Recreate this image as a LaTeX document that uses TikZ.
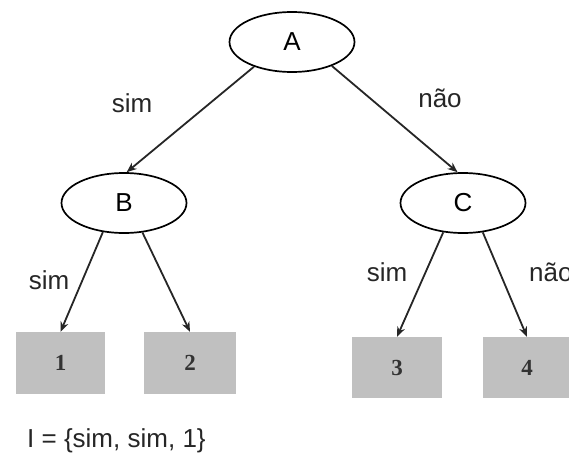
\documentclass[tikz,border=0pt]{standalone}
\usepackage{fontspec}
\setmainfont{Liberation Sans}
\newfontfamily\digitfont{Liberation Serif}
\usetikzlibrary{shapes.geometric,arrows.meta}
\definecolor{leafgray}{HTML}{C0C0C0}
\tikzset{
  dnode/.style={ellipse,draw=black,line width=1.7pt,fill=white,minimum width=125pt,minimum height=60pt,inner sep=0pt,font=\fontsize{26}{30}\selectfont},
  leaf/.style={rectangle,fill=leafgray,draw=none,inner sep=0pt,font=\digitfont\bfseries\fontsize{23}{26}\selectfont,text=black!80},
  conn/.style={line width=1.8pt,draw=black!85,-{Stealth[length=10pt,width=8pt]}},
  lbl/.style={font=\fontsize{26}{30}\selectfont,inner sep=0pt,text=black!85}
}
\begin{document}
\begin{tikzpicture}[x=1pt,y=-1pt]
\useasboundingbox (0,0) rectangle (569,458);
\node[dnode] (A) at (292,42) {A};
\node[dnode] (B) at (124,203) {B};
\node[dnode] (C) at (463,203) {C};
\node[leaf,minimum width=89pt,minimum height=62pt] (L1) at (60.5,363) {1};
\node[leaf,minimum width=92pt,minimum height=62pt] (L2) at (190,363) {2};
\node[leaf,minimum width=90pt,minimum height=61pt] (L3) at (397,367.5) {3};
\node[leaf,minimum width=88pt,minimum height=61pt] (L4) at (527,367.5) {4};
\draw[conn] (A.213) -- (B.85);
\draw[conn] (A.329) -- (C.100);
\draw[conn] (B.234) -- (L1.north);
\draw[conn] (B.302) -- (L2.north);
\draw[conn] (C.236) -- (L3.north);
\draw[conn] (C.304) -- (L4.north);
\node[lbl] (s1) at (132,103) {sim};
\node[lbl] (n1) at (440,98) {não};
\node[lbl] (s2) at (49,280) {sim};
\node[lbl] (s3) at (387,272) {sim};
\node[lbl,anchor=west] (n2) at (529,272) {não};
\node[lbl,anchor=west] (res) at (27,441) {I = \{sim, sim, 1\}};
\end{tikzpicture}
\end{document}
